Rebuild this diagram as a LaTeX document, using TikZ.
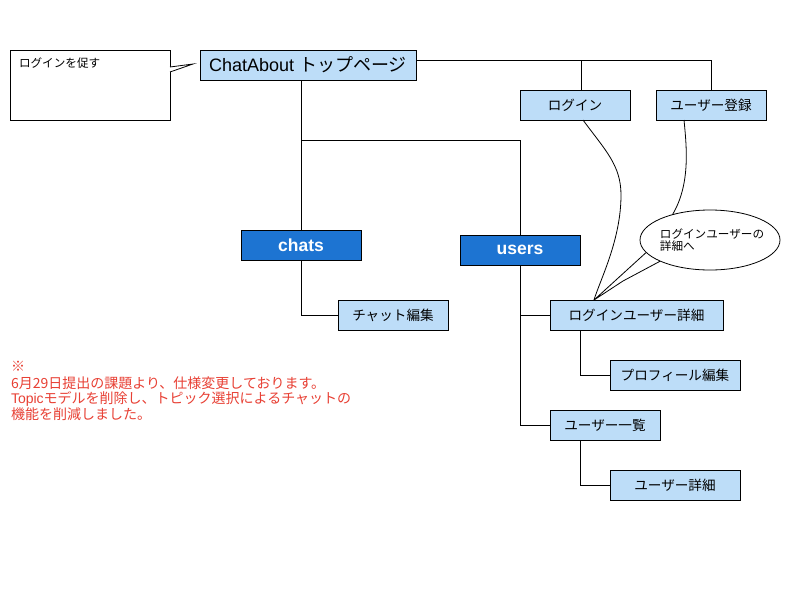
\documentclass[tikz,border=0pt]{standalone}
\usepackage{fontspec}
\setmainfont{Liberation Sans}
\newfontfamily\jp{Noto Sans CJK JP}
\usetikzlibrary{shapes.geometric,calc}
\definecolor{lightblue}{RGB}{189,221,248}
\definecolor{darkblue}{RGB}{29,116,210}
\definecolor{notered}{RGB}{232,64,52}
\begin{document}
\begin{tikzpicture}[x=1pt,y=-1pt,
  every node/.style={inner sep=0pt, outer sep=0pt},
  lb/.style={draw=black, line width=0.9pt, fill=lightblue, minimum height=30pt, font=\jp\fontsize{13.6}{15}\selectfont},
  db/.style={draw=black, line width=0.9pt, fill=darkblue, minimum width=120pt, minimum height=30pt, text=white, font=\bfseries\fontsize{17.5}{20}\selectfont},
  conn/.style={draw=black, line width=0.8pt}]
\fill[white] (0,0) rectangle (800,600);
\useasboundingbox (0,0) rectangle (800,600);

% boxes
\node[lb, minimum width=216pt, font=\fontsize{18}{20}\selectfont] (top) at (308,65) {ChatAbout {\jp トップページ}};
\node[lb, minimum width=110pt] (login) at (575,105) {ログイン};
\node[lb, minimum width=110pt] (reg) at (711,105) {ユーザー登録};
\node[db] (chats) at (301,245) {chats};
\node[db] (users) at (520,250) {users};
\node[lb, minimum width=110pt] (chatedit) at (393,315) {チャット編集};
\node[lb, minimum width=173pt] (lud) at (636.5,315) {ログインユーザー詳細};
\node[lb, minimum width=130pt] (prof) at (675,375) {プロフィール編集};
\node[lb, minimum width=110pt] (ulist) at (605,425) {ユーザー一覧};
\node[lb, minimum width=130pt] (udet) at (675,485) {ユーザー詳細};

% note box
\node[draw=black, line width=0.8pt, minimum width=160pt, minimum height=70pt] (note) at (90,85) {};
\node[anchor=north west, font=\jp\fontsize{11.6}{13}\selectfont] (notetext) at (19,58) {ログインを促す};
\coordinate (nptip) at ($(top.west)+(-7,-1)$);
\draw[line width=0.8pt, fill=white] ($(note.north east)+(0,17)$) -- (nptip) -- ($(note.north east)+(0,22)$);

% tree connectors
\coordinate (tr) at ($(top.north east)+(0,10)$);
\coordinate (bend) at (0,140);
\coordinate (lgtop) at ($(login.north)+(6,0)$);
\draw[conn] (tr) -| (reg.north);
\draw[conn] (lgtop) -- (lgtop |- tr);
\draw[conn] (chats.north |- top.south) -- (chats.north);
\draw[conn] (chats.north |- bend) -| (users.north);
\draw[conn] (chats.south) |- (chatedit.west);
\draw[conn] (users.south) |- (ulist.west);
\draw[conn] (users.south |- lud.west) -- (lud.west);
\draw[conn] ($(lud.south west)+(30,0)$) |- (prof.west);
\draw[conn] ($(ulist.south west)+(30,0)$) |- (udet.west);

% speech bubble
\node[ellipse, draw=black, line width=0.8pt, fill=white, minimum width=140pt, minimum height=60pt] (bubble) at (710,240) {};
\node[align=left, font=\jp\fontsize{11.6}{11.5}\selectfont] (bubbletext) at (712,240) {ログインユーザーの\\詳細へ};
\coordinate (tip) at ($(lud.north west)+(44,0)$);
\draw[line width=0.8pt] (bubble.191) -- (tip) -- (623,281) -- (bubble.203);

% curves
\draw[conn] ($(login.south)+(8,0)$) .. controls (605,150) and (621,165) .. (621,195) .. controls (621,240) and (600,280) .. (tip);
\draw[conn] ($(reg.south)+(-27,0)$) .. controls (687,150) and (690,185) .. (bubble.146);

% red note
\node[anchor=north west, align=left, text=notered, font=\jp\fontsize{14}{14.5}\selectfont] (rednote) at (11,361)
  {※\\[3pt]6月29日提出の課題より、仕様変更しております。\\{\fontspec{Liberation Sans}Topic}モデルを削除し、トピック選択によるチャットの\\機能を削減しました。};
\end{tikzpicture}
\end{document}
